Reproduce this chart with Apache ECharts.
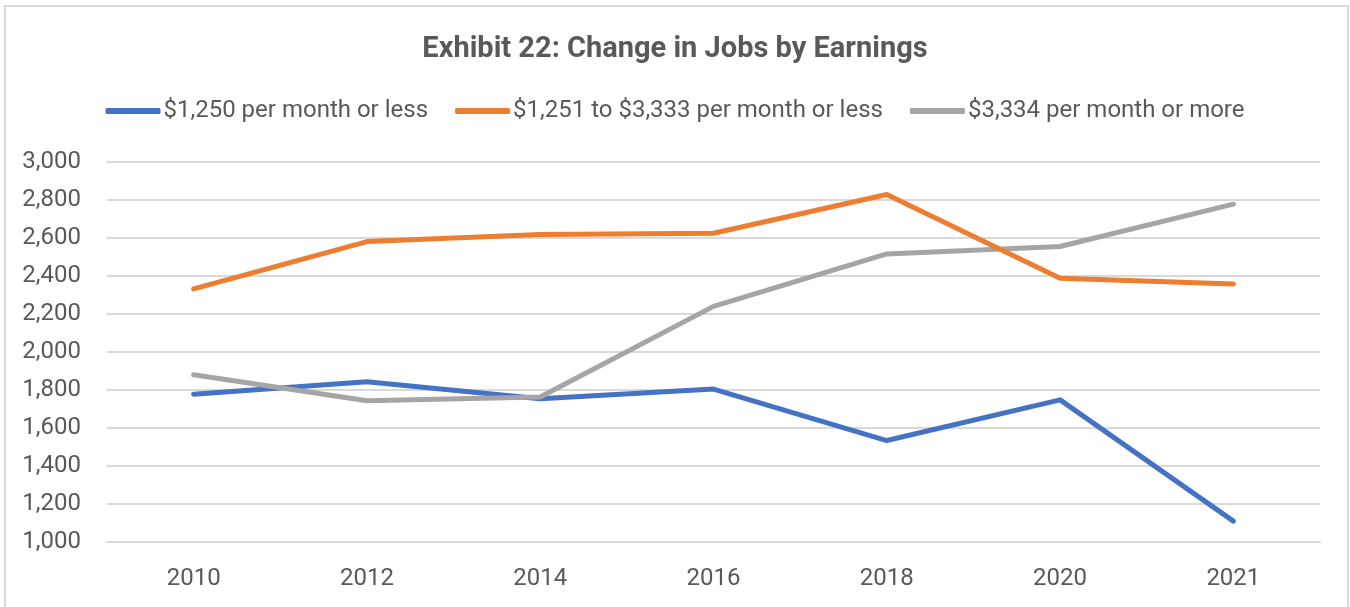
<!DOCTYPE html>
<html>
<head>
<meta charset="utf-8">
<script src="https://cdn.jsdelivr.net/npm/echarts@6/dist/echarts.min.js"></script>
<style>
  html, body { margin: 0; padding: 0; background: #fff; }
  #chart { width: 1350px; height: 607px; }
</style>
</head>
<body>
<div id="chart"></div>
<script>
const titleText = 'Exhibit 22: Change in Jobs by Earnings';
const categories = ['2010', '2012', '2014', '2016', '2018', '2020', '2021'];
const seriesNames = ['$1,250 per month or less', '$1,251 to $3,333 per month or less', '$3,334 per month or more'];
const lowEarnings = [1778, 1843, 1754, 1805, 1534, 1748, 1110];
const midEarnings = [2332, 2581, 2618, 2625, 2829, 2388, 2358];
const highEarnings = [1880, 1743, 1763, 2240, 2516, 2555, 2778];
const seriesColors = ['#4472C4', '#ED7D31', '#A5A5A5'];
const yMin = 1000, yMax = 3000, yStep = 200;

const textColor = '#595959';
const labelFont = 'Roboto';

const chart = echarts.init(document.getElementById('chart'));
const allData = [lowEarnings, midEarnings, highEarnings];

chart.setOption({
  backgroundColor: '#ffffff',
  animation: false,
  graphic: [{
    type: 'rect',
    shape: { x: 5, y: 6, width: 1343, height: 700 },
    style: { fill: 'none', stroke: '#D9D9D9', lineWidth: 2 },
    silent: true
  }],
  title: {
    text: titleText,
    left: 'center',
    top: 35,
    padding: 0,
    textStyle: { fontFamily: 'Roboto', fontWeight: 'bold', fontSize: 29, color: textColor }
  },
  legend: {
    data: seriesNames,
    left: 'center',
    top: 99,
    padding: 0,
    itemGap: 27,
    itemWidth: 55,
    itemHeight: 6,
    icon: 'roundRect',
    textStyle: { fontFamily: labelFont, fontSize: 24, color: textColor, padding: [0, 0, 0, -2] }
  },
  grid: { left: 107, right: 30, top: 162, bottom: 65, containLabel: false },
  xAxis: {
    type: 'category',
    data: categories,
    boundaryGap: true,
    axisTick: { show: false },
    axisLine: { lineStyle: { color: '#D9D9D9', width: 2 } },
    axisLabel: { margin: 25, fontFamily: labelFont, fontSize: 24, color: textColor }
  },
  yAxis: {
    type: 'value',
    min: yMin,
    max: yMax,
    interval: yStep,
    axisLine: { show: false },
    axisTick: { show: false },
    splitLine: { lineStyle: { color: '#D9D9D9', width: 2 } },
    axisLabel: {
      margin: 26,
      fontFamily: labelFont,
      fontSize: 24,
      color: textColor,
      formatter: v => v.toLocaleString('en-US')
    }
  },
  series: seriesNames.map((name, i) => ({
    name: name,
    type: 'line',
    data: allData[i],
    symbol: 'none',
    color: seriesColors[i],
    lineStyle: { width: 5, color: seriesColors[i], cap: 'round', join: 'round' },
    z: 3 + (i === 2 ? 0 : i)
  }))
});
</script>
</body>
</html>
